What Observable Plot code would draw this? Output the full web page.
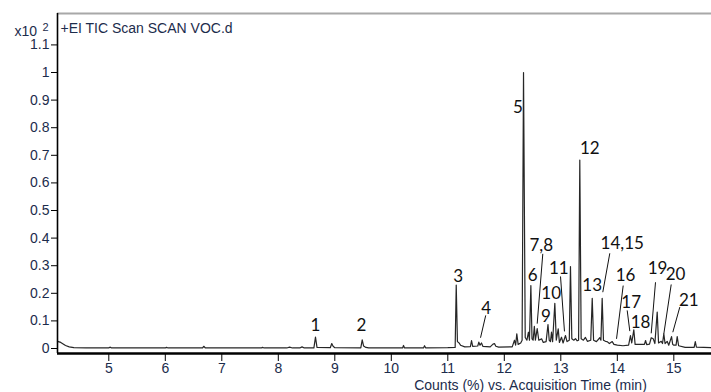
<!DOCTYPE html>
<html>
<head>
<meta charset="utf-8">
<script src="https://cdn.jsdelivr.net/npm/d3@7"></script>
<script src="https://cdn.jsdelivr.net/npm/@observablehq/plot@0.6"></script>
<style>
  html, body { margin: 0; padding: 0; background: #fff; }
  #chart svg { display: block; overflow: visible; }
</style>
</head>
<body>
<div id="chart"></div>
<script>
// ---- Data ----
const titleText = "+EI TIC Scan SCAN VOC.d";
const xAxisLabel = "Counts (%) vs. Acquisition Time (min)";
const yScaleNote = "x10";
const yScaleExp = "2";

const xTicks = [5, 6, 7, 8, 9, 10, 11, 12, 13, 14, 15];
const yTicks = [0, 0.1, 0.2, 0.3, 0.4, 0.5, 0.6, 0.7, 0.8, 0.9, 1, 1.1];

// Acquisition time (min)
const times = [
  4.092, 4.15, 4.234, 4.30, 4.381, 4.6, 5.0, 5.02, 5.05, 5.6, 6.0, 6.02, 6.05,
  6.66, 6.68, 6.71, 7.3, 7.7, 7.72, 7.75, 8.15, 8.2, 8.25, 8.38, 8.42, 8.46,
  8.63, 8.658, 8.685, 8.92, 8.946, 8.97, 9.0, 9.46, 9.485, 9.51, 9.55, 9.6,
  10.2, 10.216, 10.235, 10.57, 10.588, 10.61, 11.0, 11.13, 11.149, 11.17, 11.2,
  11.225, 11.3, 11.4, 11.42, 11.44, 11.53, 11.549, 11.57, 11.596, 11.62, 11.75,
  11.8, 11.826, 11.85, 11.9, 12.14, 12.18, 12.2, 12.221, 12.245, 12.29, 12.315,
  12.34, 12.37, 12.4, 12.427, 12.445, 12.47, 12.49, 12.51, 12.532, 12.55, 12.582,
  12.61, 12.66, 12.69, 12.74, 12.773, 12.795, 12.817, 12.835, 12.855, 12.894,
  12.92, 12.954, 12.975, 13.012, 13.04, 13.083, 13.11, 13.15, 13.171, 13.195,
  13.23, 13.26, 13.29, 13.315, 13.336, 13.36, 13.40, 13.436, 13.47, 13.53,
  13.556, 13.58, 13.63, 13.69, 13.71, 13.732, 13.755, 13.79, 13.82, 13.86,
  13.91, 13.94, 14.0, 14.1, 14.2, 14.233, 14.255, 14.292, 14.315, 14.38, 14.42,
  14.48, 14.5, 14.52, 14.57, 14.6, 14.636, 14.665, 14.706, 14.73, 14.777, 14.8,
  14.823, 14.845, 14.883, 14.91, 14.96, 14.98, 15.0, 15.04, 15.06, 15.085, 15.2,
  15.36, 15.38, 15.40, 15.667
];
// Counts (x10^2 %)
const counts = [
  0.026, 0.022, 0.011, 0.006, 0.003, 0.002, 0.002, 0.005, 0.002, 0.002, 0.002, 0.004, 0.002,
  0.002, 0.008, 0.002, 0.002, 0.002, 0.004, 0.002, 0.002, 0.005, 0.002, 0.002, 0.006, 0.002,
  0.002, 0.041, 0.004, 0.003, 0.018, 0.008, 0.003, 0.002, 0.031, 0.009, 0.004, 0.002,
  0.002, 0.011, 0.002, 0.002, 0.010, 0.002, 0.003, 0.004, 0.230, 0.025, 0.020,
  0.012, 0.006, 0.007, 0.029, 0.008, 0.009, 0.023, 0.012, 0.020, 0.008, 0.006,
  0.016, 0.018, 0.008, 0.005, 0.006, 0.030, 0.012, 0.053, 0.015, 0.020, 0.030,
  1.000, 0.040, 0.030, 0.059, 0.030, 0.228, 0.035, 0.030, 0.080, 0.030, 0.072,
  0.030, 0.035, 0.022, 0.025, 0.087, 0.030, 0.025, 0.059, 0.025, 0.164,
  0.030, 0.071, 0.022, 0.041, 0.020, 0.047, 0.025, 0.030, 0.297, 0.035,
  0.030, 0.036, 0.028, 0.030, 0.683, 0.035, 0.030, 0.040, 0.026, 0.030,
  0.182, 0.030, 0.025, 0.039, 0.030, 0.182, 0.030, 0.026, 0.025, 0.018,
  0.025, 0.015, 0.012, 0.010, 0.012, 0.047, 0.020, 0.068, 0.015, 0.015, 0.015,
  0.015, 0.029, 0.014, 0.016, 0.039, 0.035, 0.018, 0.132, 0.020, 0.026, 0.018,
  0.053, 0.018, 0.026, 0.012, 0.043, 0.015, 0.012, 0.012, 0.043, 0.010, 0.004,
  0.004, 0.025, 0.005, 0.003
];

// Peak annotations (label, time, count of label centre)
const peakNames = ["1","2","3","4","5","6","7,8","9","10","11","12","13","14,15","16","17","18","19","20","21"];
const peakLabelT = [8.658, 9.473, 11.184, 11.68, 12.239, 12.504, 12.653, 12.735, 12.83, 12.965, 13.513, 13.556, 14.087, 14.145, 14.246, 14.411, 14.712, 15.03, 15.265];
const peakLabelV = [0.083, 0.083, 0.261, 0.145, 0.874, 0.264, 0.373, 0.116, 0.199, 0.290, 0.725, 0.228, 0.380, 0.264, 0.167, 0.094, 0.290, 0.268, 0.174];

// Leader lines (from label to peak)
const leaderT1 = [11.671, 12.681, 12.995, 13.867, 14.104, 14.175, 14.676, 14.954, 15.106];
const leaderV1 = [0.120, 0.343, 0.261, 0.345, 0.228, 0.138, 0.240, 0.232, 0.150];
const leaderT2 = [11.579, 12.582, 13.065, 13.743, 13.986, 14.221, 14.600, 14.823, 14.982];
const leaderV2 = [0.039, 0.090, 0.062, 0.204, 0.035, 0.063, 0.055, 0.053, 0.059];

// ---- Build tables ----
const trace = times.map((t, i) => ({t, v: counts[i]}));
const labels = peakNames.map((name, i) => ({name, t: peakLabelT[i], v: peakLabelV[i]}));
const leaders = leaderT1.map((t, i) => ({t1: t, v1: leaderV1[i], t2: leaderT2[i], v2: leaderV2[i]}));

const xDomain = [4.092, 15.667];
const yDomain = [-0.0181, 1.2138];
const tickColor = "#1c2c4c";
const axisFont = "'Liberation Sans', Arial, sans-serif";

const chart = Plot.plot({
  width: 711,
  height: 392,
  marginLeft: 57,
  marginRight: 0,
  marginTop: 13,
  marginBottom: 39,
  style: {background: "#fff", fontFamily: axisFont, overflow: "visible"},
  x: {domain: xDomain},
  y: {domain: yDomain},
  marks: [
    // top border
    Plot.ruleY([yDomain[1]], {stroke: "#a8a8a8", strokeWidth: 2}),
    // trace
    Plot.line(trace, {x: "t", y: "v", stroke: "#262626", strokeWidth: 1.2, curve: "linear"}),
    // leader lines
    Plot.link(leaders, {x1: "t1", y1: "v1", x2: "t2", y2: "v2", stroke: "#111", strokeWidth: 1}),
    // peak labels
    Plot.text(labels, {x: "t", y: "v", text: "name", fontSize: 17, fill: "#111",
      fontFamily: "Lato, 'Open Sans', sans-serif", textAnchor: "middle", lineAnchor: "middle"}),
    // axes
    Plot.axisX({ticks: xTicks, tickSize: 8, tickPadding: 2, fontSize: 14, color: tickColor,
      stroke: "#000", tickFormat: d => String(d), label: null}),
    Plot.axisY({ticks: yTicks, tickSize: 6, tickPadding: 2, fontSize: 14, color: tickColor,
      stroke: "#000", tickFormat: d => String(+d.toFixed(1)), label: null}),
    // axis lines
    Plot.ruleX([xDomain[0]], {stroke: "#000", strokeWidth: 1.6}),
    Plot.ruleY([yDomain[0]], {stroke: "#000", strokeWidth: 2.6}),
    // title
    Plot.text([titleText], {frameAnchor: "top-left", dx: 3, dy: 15, fontSize: 14, fill: tickColor,
      textAnchor: "start", lineAnchor: "middle"}),
    // y scale note
    Plot.text([yScaleNote], {frameAnchor: "top-left", dx: -43, dy: 18, fontSize: 14, fill: tickColor,
      textAnchor: "start", lineAnchor: "middle"}),
    Plot.text([yScaleExp], {frameAnchor: "top-left", dx: -15, dy: 13.5, fontSize: 11, fill: tickColor,
      textAnchor: "start", lineAnchor: "middle"}),
    // x axis label
    Plot.text([xAxisLabel], {frameAnchor: "bottom", dx: 146, dy: 32, fontSize: 14, fill: tickColor,
      textAnchor: "middle", lineAnchor: "middle"})
  ]
});
document.getElementById("chart").appendChild(chart);
</script>
</body>
</html>
